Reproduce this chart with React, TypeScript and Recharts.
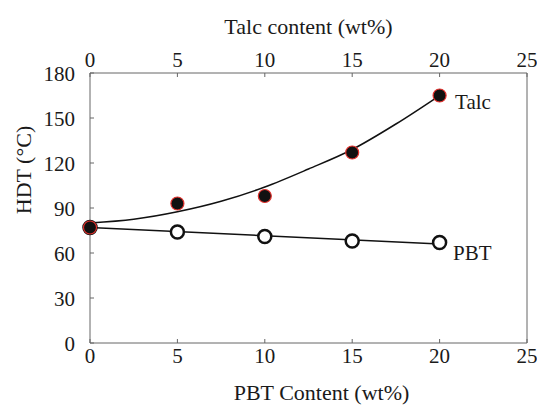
import { ComposedChart, Line, Scatter, XAxis, YAxis, Label, LabelList, ReferenceLine } from "recharts";

// tick values
const contentTicks = [0, 5, 10, 15, 20, 25];
const hdtTicks = [0, 30, 60, 90, 120, 150, 180];

// measured points
const contents = [0, 5, 10, 15, 20];
const talcHdt = [77, 93, 98, 127, 165];
const pbtHdt = [77, 74, 71, 68, 67];

// fitted curves
const talcFitX = [0, 2.5, 5, 7.5, 10, 12.5, 15, 17.5, 20];
const talcFitY = [80, 82.5, 87.5, 94.5, 104, 116, 129, 146, 165];
const pbtFitX = [0, 20];
const pbtFitY = [77, 66];

const talcPoints = contents.map((x, i) => ({ x, y: talcHdt[i] }));
const pbtPoints = contents.map((x, i) => ({ x, y: pbtHdt[i] }));
const talcFit = talcFitX.map((x, i) => ({ x, y: talcFitY[i] }));
const pbtFit = pbtFitX.map((x, i) => ({ x, y: pbtFitY[i] }));

const FONT = "'Liberation Serif', 'Times New Roman', serif";
const AXIS = "#666";
const TEXT = "#1a1a1a";
const TICK_FS = 21;
const TITLE_FS = 22;

// ticks point into the plot, labels stay outside
const BottomTick = ({ x, y, payload }: any) => (
  <g>
    <line x1={x} y1={y} x2={x} y2={y - 4} stroke={AXIS} />
    <text x={x} y={y + 20} textAnchor="middle" fontSize={TICK_FS} fontFamily={FONT} fill={TEXT}>
      {payload.value}
    </text>
  </g>
);

const TopTick = ({ x, y, payload }: any) => (
  <g>
    <line x1={x} y1={y} x2={x} y2={y + 4} stroke={AXIS} />
    <text x={x} y={y - 6} textAnchor="middle" fontSize={TICK_FS} fontFamily={FONT} fill={TEXT}>
      {payload.value}
    </text>
  </g>
);

const LeftTick = ({ x, y, payload }: any) => (
  <g>
    <line x1={x} y1={y} x2={x + 4} y2={y} stroke={AXIS} />
    <text x={x - 15} y={y + 7.5} textAnchor="end" fontSize={TICK_FS} fontFamily={FONT} fill={TEXT}>
      {payload.value}
    </text>
  </g>
);

const FilledDot = ({ cx, cy }: any) => (
  <circle cx={cx} cy={cy} r={6.5} fill="#111" stroke="#e0302c" strokeWidth={1.2} />
);

const OpenDot = ({ cx, cy }: any) => (
  <circle cx={cx} cy={cy} r={6.5} fill="#fff" stroke="#111" strokeWidth={2.5} />
);

const seriesLabel = (name: string, dx: number, dy: number) => (props: any) => {
  if (props.index !== contents.length - 1) return null;
  return (
    <text x={props.x + dx} y={props.y + dy} fontSize={TICK_FS} fontFamily={FONT} fill={TEXT}>
      {name}
    </text>
  );
};

export default function App() {
  return (
    <div style={{ position: "absolute", left: 0, top: 0, background: "#fff" }}>
      <ComposedChart width={537} height={406} margin={{ top: 0, right: 10, bottom: 0, left: 0 }}>
        <XAxis
          xAxisId="bottom"
          dataKey="x"
          type="number"
          domain={[0, 25]}
          ticks={contentTicks}
          orientation="bottom"
          height={63}
          stroke={AXIS}
          tickLine={false}
          tickSize={0}
          tickMargin={0}
          tick={BottomTick}
        >
          <Label
            content={({ viewBox }: any) => (
              <text x={viewBox.x + viewBox.width / 2 + 13} y={400} textAnchor="middle" fontSize={TITLE_FS} fontFamily={FONT} fill={TEXT}>
                PBT Content (wt%)
              </text>
            )}
          />
        </XAxis>
        <XAxis
          xAxisId="top"
          dataKey="x"
          type="number"
          domain={[0, 25]}
          ticks={contentTicks}
          orientation="top"
          height={73}
          stroke={AXIS}
          tickLine={false}
          tickSize={0}
          tickMargin={0}
          tick={TopTick}
        >
          <Label
            content={({ viewBox }: any) => (
              <text x={viewBox.x + viewBox.width / 2} y={34} textAnchor="middle" fontSize={TITLE_FS} fontFamily={FONT} fill={TEXT}>
                Talc content (wt%)
              </text>
            )}
          />
        </XAxis>
        <YAxis
          yAxisId="left"
          dataKey="y"
          type="number"
          domain={[0, 180]}
          ticks={hdtTicks}
          width={90}
          stroke={AXIS}
          tickLine={false}
          tickSize={0}
          tickMargin={0}
          tick={LeftTick}
        >
          <Label
            content={() => {
              const cx = 23;
              const cy = 170;
              return (
                <text x={cx} y={cy} transform={`rotate(-90 ${cx} ${cy})`} textAnchor="middle" dominantBaseline="central" fontSize={TITLE_FS} fontFamily={FONT} fill={TEXT}>
                  HDT (°C)
                </text>
              );
            }}
          />
        </YAxis>
        <ReferenceLine xAxisId="bottom" yAxisId="left" x={25} stroke={AXIS} />

        {/* keeps the top (talc) axis bound to data so it gets drawn */}
        <Line
          data={talcPoints}
          xAxisId="top"
          yAxisId="left"
          dataKey="y"
          stroke="none"
          dot={false}
          activeDot={false}
          isAnimationActive={false}
        />
        <Line
          data={talcFit}
          xAxisId="bottom"
          yAxisId="left"
          dataKey="y"
          type="monotone"
          stroke="#111"
          strokeWidth={1.5}
          dot={false}
          isAnimationActive={false}
        />
        <Line
          data={pbtFit}
          xAxisId="bottom"
          yAxisId="left"
          dataKey="y"
          type="linear"
          stroke="#111"
          strokeWidth={1.5}
          dot={false}
          isAnimationActive={false}
        />
        <Scatter
          data={pbtPoints}
          xAxisId="bottom"
          yAxisId="left"
          dataKey="y"
          shape={OpenDot}
          isAnimationActive={false}
        >
          <LabelList dataKey="y" content={seriesLabel("PBT", 18, 22.5)} />
        </Scatter>
        <Scatter
          data={talcPoints}
          xAxisId="bottom"
          yAxisId="left"
          dataKey="y"
          shape={FilledDot}
          isAnimationActive={false}
        >
          <LabelList dataKey="y" content={seriesLabel("Talc", 20, 18)} />
        </Scatter>
      </ComposedChart>
    </div>
  );
}
